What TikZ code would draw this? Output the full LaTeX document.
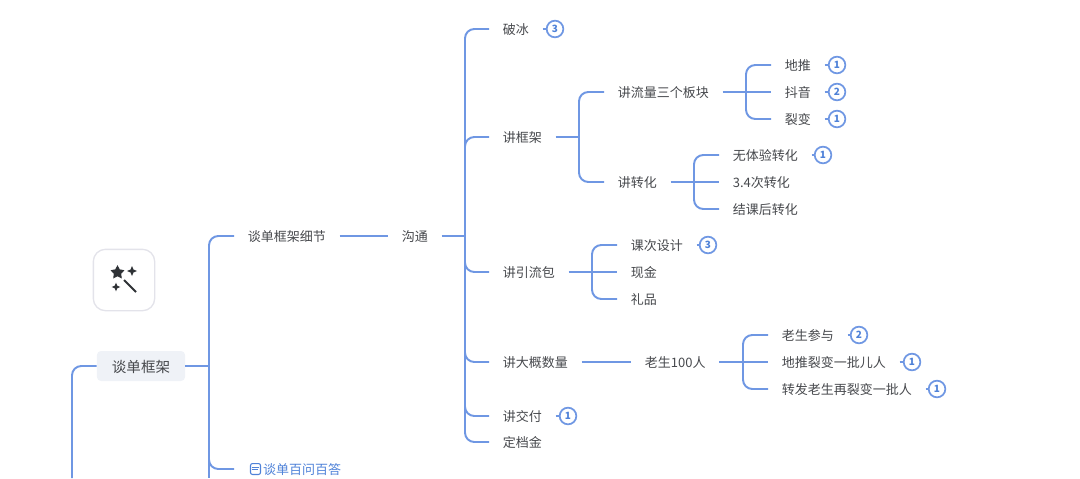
\documentclass[tikz,border=0pt]{standalone}
\usepackage{fontspec}
\setmainfont{Noto Sans CJK SC}
\usetikzlibrary{shapes.geometric}
\definecolor{linkblue}{HTML}{6F97E3}
\definecolor{titleblue}{HTML}{4F82D8}
\definecolor{inktext}{HTML}{46484C}
\definecolor{rootfill}{HTML}{EFF2F7}
\definecolor{iconline}{HTML}{E3E3EA}
\definecolor{iconink}{HTML}{2F3236}
\tikzset{
    link/.style={draw=linkblue, line width=1.45pt, rounded corners=7pt},
    topic/.style={anchor=west, inner xsep=10.2pt, inner ysep=1pt, text height=9.5pt, text depth=1pt, text=inktext, font=\fontsize{9.75}{12}\selectfont},
    rootbox/.style={fill=rootfill, rounded corners=3pt, inner xsep=11.25pt, minimum height=22.5pt, text height=10pt, text depth=1pt, text=inktext, font=\fontsize{10.9}{13}\selectfont},
    badge/.style={circle, draw=linkblue, line width=1.3pt, fill=white, minimum size=12.5pt, inner sep=0pt, text=titleblue, font=\fontsize{7.5}{9}\bfseries\selectfont},
    spark/.style={star, star points=4, star point ratio=2.4, fill=iconink, inner sep=0pt, minimum size=#1}
}
\begin{document}
\begin{tikzpicture}[x=.75pt, y=-.75pt]
    \useasboundingbox (0,0) rectangle (1080,478);
    % icon
    \node[draw=iconline, line width=1pt, fill=white, rounded corners=9pt, minimum size=46pt, inner sep=0pt] (iconbox) at (124,280) {};
    \node[star, star points=5, star point ratio=1.9, fill=iconink, inner sep=0pt, minimum size=11pt] (wandstar) at (117.5,272.5) {};
    \node[spark=7.5pt] (sparkup) at (132,271) {};
    \node[spark=6.5pt] (sparkdown) at (116,287) {};
    \coordinate (wandtop) at (124,280);
    \coordinate (wandtip) at (136,292);
    \draw[iconink, line width=1.5pt] (wandtop)--(wandtip);

    % left side
    \node[rootbox] (root) at (141,366) {谈单框架};
    \node[topic] (detail) at (234,236) {谈单框架细节};
    \node[topic, text=titleblue] (baiwen) at (234,469) {\hspace*{11.5pt}谈单百问百答};
    \node[topic] (goutong) at (388,236) {沟通};
    \coordinate (leftend) at (72,478);
    \coordinate (rootbus) at (209,366);
    \coordinate (rootend) at (209,478);
    \coordinate (gtbus) at (465,236);

    % level under goutong
    \node[topic] (pobing) at (489,29) {破冰};
    \node[topic] (kuangjia) at (489,137) {讲框架};
    \node[topic] (yinliu) at (489,272) {讲引流包};
    \node[topic] (shuliang) at (489,362) {讲大概数量};
    \node[topic] (jiaofu) at (489,416) {讲交付};
    \node[topic] (dingjin) at (489,442) {定档金};

    % kuangjia
    \coordinate (kjbus) at (579,137);
    \node[topic] (liuliang) at (604,92) {讲流量三个板块};
    \node[topic] (zhuanhua) at (604,182) {讲转化};
    \coordinate (llbus) at (746,92);
    \node[topic] (ditui) at (771,65) {地推};
    \node[topic] (douyin) at (771,92) {抖音};
    \node[topic] (liebian) at (771,119) {裂变};
    \coordinate (zhbus) at (694,182);
    \node[topic] (wuti) at (719,155) {无体验转化};
    \node[topic] (cishu) at (719,182) {3.4次转化};
    \node[topic] (jieke) at (719,209) {结课后转化};

    % yinliu
    \coordinate (ylbus) at (592,272);
    \node[topic] (sheji) at (617,245) {课次设计};
    \node[topic] (xianjin) at (617,272) {现金};
    \node[topic] (lipin) at (617,299) {礼品};

    % shuliang
    \node[topic] (laosheng) at (631,362) {老生100人};
    \coordinate (lsbus) at (743,362);
    \node[topic] (canyu) at (768,335) {老生参与};
    \node[topic] (yipi) at (768,362) {地推裂变一批儿人};
    \node[topic] (zaibian) at (768,389) {转发老生再裂变一批人};

    % badges
    \node[badge] (bpobing) at (555,29) {3};
    \node[badge] (bditui) at (837,65) {1};
    \node[badge] (bdouyin) at (837,92) {2};
    \node[badge] (bliebian) at (837,119) {1};
    \node[badge] (bwuti) at (823,155) {1};
    \node[badge] (bsheji) at (708,245) {3};
    \node[badge] (bcanyu) at (859,335) {2};
    \node[badge] (byipi) at (912,362) {1};
    \node[badge] (bzaibian) at (937,389) {1};
    \node[badge] (bjiaofu) at (568,416) {1};

    % document mark
    \node[draw=titleblue, line width=.8pt, rounded corners=1.5pt, minimum width=7.5pt, minimum height=8.2pt, inner sep=0pt] (docmark) at (255.5,469) {};
    \draw[titleblue, line width=.6pt] ([xshift=1.6pt,yshift=1.4pt]docmark.west)--([xshift=-1.6pt,yshift=1.4pt]docmark.east);
    \draw[titleblue, line width=.6pt] ([xshift=1.6pt,yshift=-.6pt]docmark.west)--([xshift=-2.4pt,yshift=-.6pt]docmark.east);

    % connectors
    \draw[link] (root.west) -| (leftend);
    \draw[link] (root.east)--(rootbus);
    \draw[link] (rootbus)--(rootend);
    \draw[link] (detail.east)--(goutong.west);
    \draw[link] (goutong.east)--(gtbus);
    \draw[link] (kuangjia.east)--(kjbus);
    \draw[link] (liuliang.east)--(llbus);
    \draw[link] (zhuanhua.east)--(zhbus);
    \draw[link] (yinliu.east)--(ylbus);
    \draw[link] (shuliang.east)--(laosheng.west);
    \draw[link] (laosheng.east)--(lsbus);

    \foreach \c in {detail,baiwen}
    {
        \draw[link] (rootbus) |- (\c.west);
    }
    \foreach \c in {pobing,kuangjia,yinliu,shuliang,jiaofu,dingjin}
    {
        \draw[link] (gtbus) |- (\c.west);
    }
    \foreach \c in {liuliang,zhuanhua}
    {
        \draw[link] (kjbus) |- (\c.west);
    }
    \foreach \c in {ditui,liebian}
    {
        \draw[link] (llbus) |- (\c.west);
    }
    \foreach \c in {wuti,jieke}
    {
        \draw[link] (zhbus) |- (\c.west);
    }
    \foreach \c in {sheji,lipin}
    {
        \draw[link] (ylbus) |- (\c.west);
    }
    \foreach \c in {canyu,zaibian}
    {
        \draw[link] (lsbus) |- (\c.west);
    }
    % middle children run straight on
    \foreach \a/\b in {llbus/douyin,zhbus/cishu,ylbus/xianjin,lsbus/yipi}
    {
        \draw[link] (\a)--(\b.west);
    }
    \foreach \a/\b in {pobing/bpobing,ditui/bditui,douyin/bdouyin,liebian/bliebian,wuti/bwuti,sheji/bsheji,canyu/bcanyu,yipi/byipi,zaibian/bzaibian,jiaofu/bjiaofu}
    {
        \draw[link] (\a.east)--(\b.west);
    }
\end{tikzpicture}
\end{document}
